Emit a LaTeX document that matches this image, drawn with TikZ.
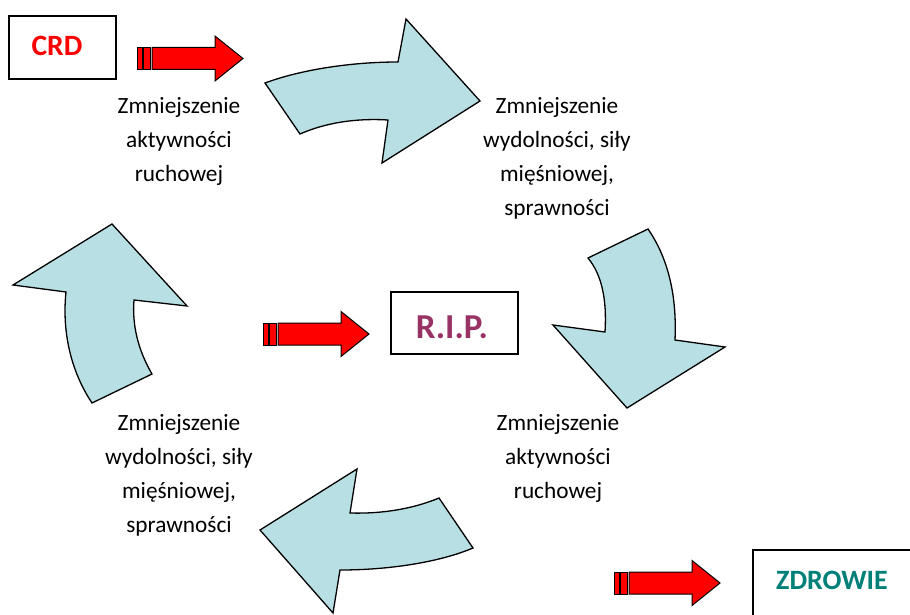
\documentclass[tikz,border=0pt]{standalone}
\usepackage{fontspec}
\setmainfont{Carlito}
\definecolor{arrowblue}{RGB}{184,223,227}
\definecolor{ripcol}{RGB}{153,51,102}
\definecolor{zdrcol}{RGB}{0,128,120}
\tikzset{
  bigarrow/.style={draw=black, line width=1.3pt, fill=arrowblue, line join=miter},
  labelbox/.style={draw=black, line width=1.3pt, fill=white, inner sep=0pt},
  bodytext/.style={align=center, font=\fontsize{23.3}{34}\selectfont, inner sep=0pt},
  redarrow/.pic={
    \draw[fill=red, line width=1pt] (0,-11) rectangle (5,11);
    \draw[fill=red, line width=1pt] (6.5,-11) rectangle (13,11);
    \draw[fill=red, line width=1pt, line join=miter] (15,-11) -- (78,-11) -- (78,-22.5) -- (106,0) -- (78,22.5) -- (78,11) -- (15,11) -- cycle;
  }
}
\begin{document}
\begin{tikzpicture}[x=1pt,y=-1pt]
\useasboundingbox (0,0) rectangle (910,615);
\clip (0,0) rectangle (910,615);

% big curved arrows
\path[bigarrow] (265,83) .. controls (300,70) and (350,62) .. (398,62) -- (406,19) -- (480,101) -- (382,163) -- (388,120) .. controls (355,118) and (325,123) .. (300,134) -- cycle;
\path[bigarrow] (588,258) -- (648,229) .. controls (668,258) and (677,295) .. (675,340) -- (725,347) -- (627,408) -- (553,325) -- (605,332) .. controls (607,300) and (602,275) .. (588,258) -- cycle;
\path[bigarrow] (439,498) -- (473,548) .. controls (440,562) and (390,570) .. (340,570) -- (333,613) -- (260,530) -- (357,469) -- (350,513) .. controls (385,514) and (415,508) .. (439,498) -- cycle;
\path[bigarrow] (92,403) -- (152,374) .. controls (138,350) and (132,325) .. (134,300) -- (187,306) -- (112,224) -- (13,285) -- (66,292) .. controls (62,330) and (70,370) .. (92,403) -- cycle;

% boxes
\node[labelbox, minimum width=107pt, minimum height=63pt] (crdbox) at (62.5,47.5) {};
\node[font=\bfseries\fontsize{29.5}{29.5}\selectfont, text=red, inner sep=0pt] (crd) at (57,46) {CRD};
\node[labelbox, minimum width=127pt, minimum height=62pt] (ripbox) at (454.5,323) {};
\node[font=\bfseries\fontsize{35}{35}\selectfont, text=ripcol, inner sep=0pt] (rip) at (452,327) {R.I.P.};
\node[labelbox, minimum width=180pt, minimum height=90pt] (zdrbox) at (843,595) {};
\node[font=\bfseries\fontsize{28}{28}\selectfont, text=zdrcol, inner sep=0pt] (zdr) at (832,580) {ZDROWIE};

% red arrows
\pic at (137,58.5) {redarrow};
\pic at (263,334) {redarrow};
\pic at (614,583) {redarrow};

% texts
\node[bodytext] (t1) at (179,141) {Zmniejszenie\\aktywności\\ruchowej};
\node[bodytext] (t2) at (557,158) {Zmniejszenie\\wydolności, siły\\mięśniowej,\\sprawności};
\node[bodytext] (t3) at (558,458) {Zmniejszenie\\aktywności\\ruchowej};
\node[bodytext] (t4) at (179,475) {Zmniejszenie\\wydolności, siły\\mięśniowej,\\sprawności};
\end{tikzpicture}
\end{document}
